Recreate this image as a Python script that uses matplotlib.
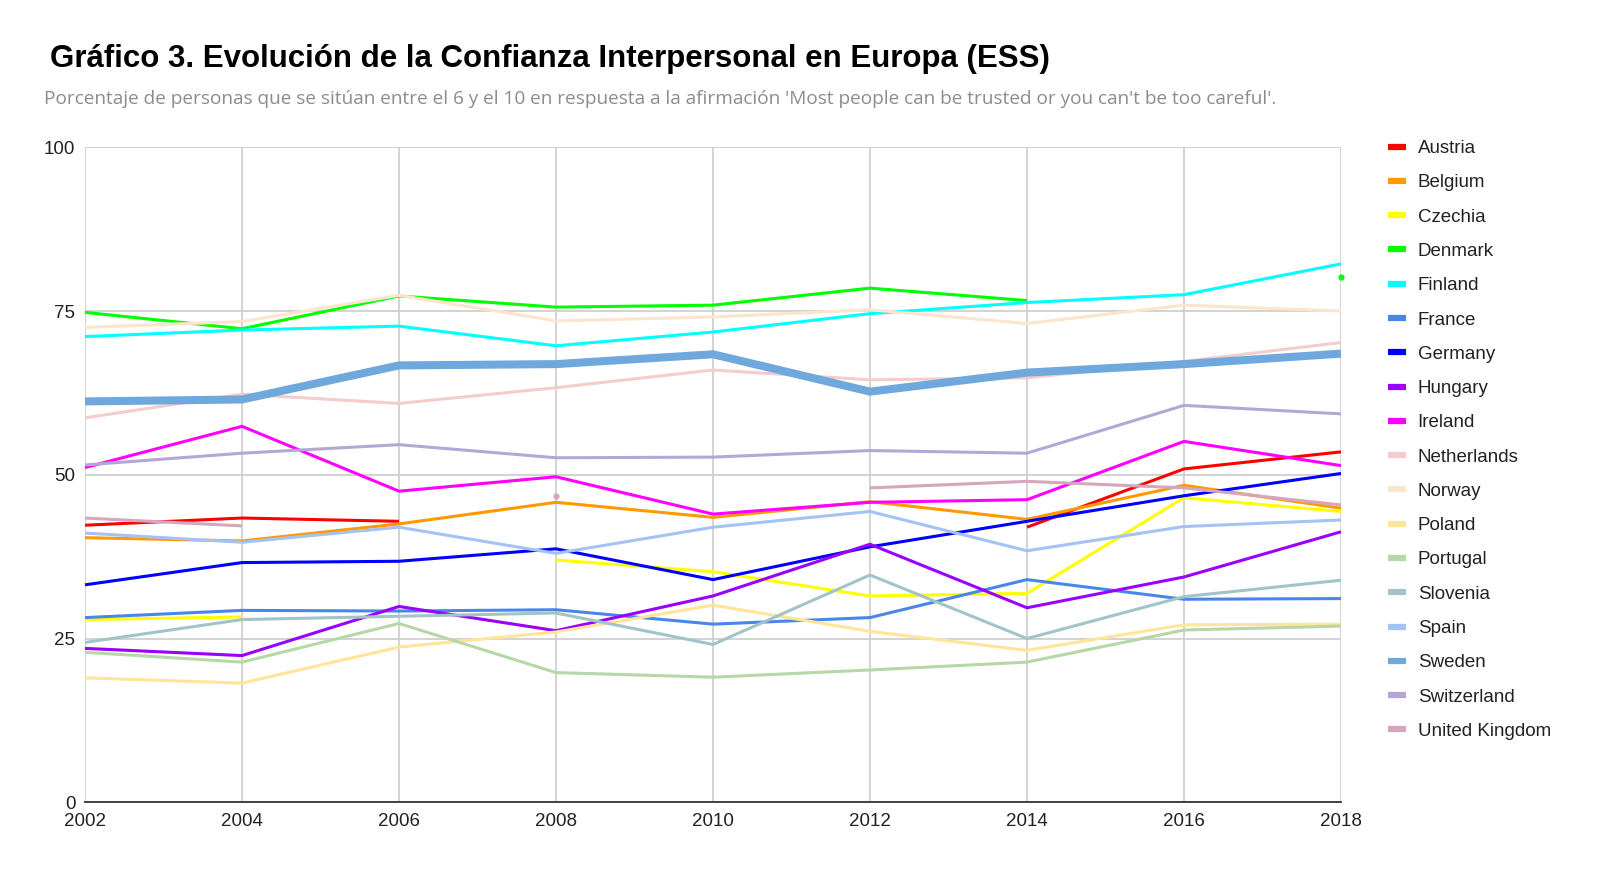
import numpy as np
import matplotlib
matplotlib.use("Agg")
import matplotlib.pyplot as plt
from matplotlib.lines import Line2D

nan = np.nan
years = [2002, 2004, 2006, 2008, 2010, 2012, 2014, 2016, 2018]

austria = [42.3, 43.4, 42.9, nan, nan, nan, 42.0, 50.9, 53.5]
belgium = [40.4, 39.9, 42.5, 45.8, 43.5, 45.9, 43.2, 48.4, 44.9]
czechia = [27.9, 28.3, nan, 37.0, 35.2, 31.5, 31.9, 46.5, 44.4]
denmark = [74.8, 72.3, 77.3, 75.6, 75.9, 78.5, 76.6, nan, 80.2]
finland = [71.1, 72.1, 72.7, 69.7, 71.8, 74.6, 76.3, 77.5, 82.2]
france = [28.2, 29.3, 29.2, 29.4, 27.2, 28.2, 34.0, 31.0, 31.1]
germany = [33.2, 36.6, 36.8, 38.7, 34.0, 39.0, 42.9, 46.8, 50.2]
hungary = [23.5, 22.4, 29.9, 26.2, 31.5, 39.4, 29.7, 34.4, 41.3]
ireland = [51.1, 57.4, 47.5, 49.7, 44.0, 45.8, 46.2, 55.1, 51.4]
netherlands = [58.7, 62.3, 60.9, 63.3, 66.0, 64.5, 64.8, 67.3, 70.2]
norway = [72.5, 73.4, 77.4, 73.5, 74.1, 75.2, 73.1, 75.9, 75.0]
poland = [19.0, 18.2, 23.7, 26.0, 30.1, 26.1, 23.2, 27.1, 27.2]
portugal = [22.9, 21.4, 27.3, 19.8, 19.1, 20.2, 21.4, 26.3, 26.9]
slovenia = [24.4, 27.9, 28.4, 28.9, 24.1, 34.7, 25.0, 31.4, 33.9]
spain = [41.1, 39.7, 42.0, 38.0, 42.0, 44.4, 38.4, 42.1, 43.1]
sweden = [61.2, 61.5, 66.7, 66.9, 68.4, 62.7, 65.6, 66.9, 68.5]
switzerland = [51.5, 53.3, 54.6, 52.6, 52.7, 53.7, 53.3, 60.6, 59.3]
united_kingdom = [43.4, 42.2, nan, 46.7, nan, 48.0, 49.0, 48.0, 45.4]

countries = ["Austria", "Belgium", "Czechia", "Denmark", "Finland", "France",
             "Germany", "Hungary", "Ireland", "Netherlands", "Norway", "Poland",
             "Portugal", "Slovenia", "Spain", "Sweden", "Switzerland",
             "United Kingdom"]
series = [austria, belgium, czechia, denmark, finland, france, germany, hungary,
          ireland, netherlands, norway, poland, portugal, slovenia, spain, sweden,
          switzerland, united_kingdom]
colors = ["#ff0000", "#ff9900", "#ffff00", "#00ff00", "#00ffff", "#4a86e8",
          "#0000ff", "#9900ff", "#ff00ff", "#f4cccc", "#fce5cd", "#ffe599",
          "#b6d7a8", "#a2c4c9", "#a4c2f4", "#6fa8dc", "#b4a7d6", "#d5a6bd"]

title = "Gráfico 3. Evolución de la Confianza Interpersonal en Europa (ESS)"
subtitle = ("Porcentaje de personas que se sitúan entre el 6 y el 10 en respuesta a la "
            "afirmación 'Most people can be trusted or you can't be too careful'.")

plt.rcParams['font.family'] = ['Liberation Sans', 'DejaVu Sans']

W, H = 1600, 873
fig = plt.figure(figsize=(W / 100, H / 100), dpi=100)
ax = fig.add_axes([85 / W, 1 - 802.3 / H, (1341 - 85) / W, (802.3 - 147.3) / H])

for name, vals, col in zip(countries, series, colors):
    lw = 5.8 if name == "Sweden" else 2.2
    y = np.array(vals, dtype=float)
    ax.plot(years, y, color=col, lw=lw, solid_joinstyle='round', solid_capstyle='butt',
            clip_on=False)
    # isolated points (no neighbours) drawn as dots
    for i, v in enumerate(y):
        if np.isnan(v):
            continue
        left = np.isnan(y[i - 1]) if i > 0 else True
        right = np.isnan(y[i + 1]) if i < len(y) - 1 else True
        if left and right:
            ax.plot([years[i]], [v], 'o', color=col, ms=4.5, mec='none', clip_on=False)

ax.set_xlim(2002, 2018)
ax.set_ylim(0, 100)
ax.set_xticks(years)
ax.set_yticks([0, 25, 50, 75, 100])
ax.grid(True, color="#cccccc", lw=1.2)
ax.set_axisbelow(True)
for s in ["top", "right", "left"]:
    ax.spines[s].set_visible(False)
ax.spines["bottom"].set_color("#333333")
ax.spines["bottom"].set_linewidth(1.3)
ax.tick_params(length=0, labelsize=13.5, colors="#222222")
ax.tick_params(axis='x', pad=8)
ax.tick_params(axis='y', pad=7)

handles = [Line2D([0], [0], color=c, lw=4.5, solid_capstyle='butt') for c in colors]
fig.legend(handles, countries, loc='upper left', bbox_to_anchor=(1388 / W, 1 - 140 / H),
           frameon=False, fontsize=13.5, handlelength=0.96, handletextpad=0.62,
           labelspacing=0.915, borderaxespad=0, borderpad=0, labelcolor="#222222")

fig.text(50 / W, 1 - 59 / H, title, fontsize=22.5, fontweight='bold', va='center',
         ha='left', color="#000000")
fig.text(44 / W, 1 - 99 / H, subtitle, fontsize=13.7, va='center', ha='left',
         color="#8c8c8c", family=['Open Sans', 'DejaVu Sans'])

fig.savefig("out.png", dpi=100)
